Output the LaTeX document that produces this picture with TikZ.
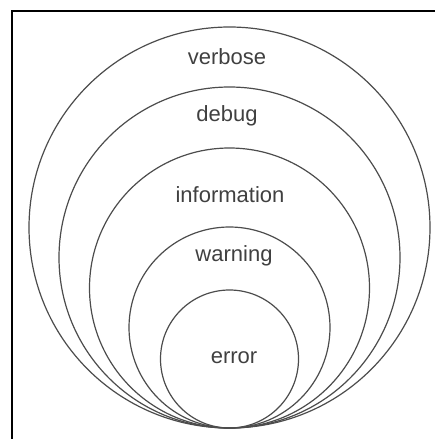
\documentclass[tikz,border=0pt]{standalone}
\usepackage{fontspec}
\setmainfont{Liberation Sans}
\usepackage{tikz}

\begin{document}
\begin{tikzpicture}[x=0.75pt,y=-0.75pt]
\tikzset{ring/.style={draw=black!70,line width=0.9pt},
  levelname/.style={text=black!75,font=\fontsize{16.5}{19}\selectfont}}
\useasboundingbox (0,0) rectangle (435,439);
\draw[line width=1.3pt] (11.7,439) -- (11.7,10.7) -- (435,10.7);
% circles, all touching at the bottom
\draw[ring] (229.5,227.5) circle (200.5);
\draw[ring] (229.5,257.5) circle (170.5);
\draw[ring] (229.5,288) circle (140);
\draw[ring] (229.5,327.5) circle (100.5);
\draw[ring] (229.5,359) circle (69);
\node[levelname] (verbose) at (227,57) {verbose};
\node[levelname] (debug) at (227,116) {debug};
\node[levelname] (information) at (230,195) {information};
\node[levelname] (warning) at (234,256) {warning};
\node[levelname] (error) at (234,358) {error};
\end{tikzpicture}
\end{document}
